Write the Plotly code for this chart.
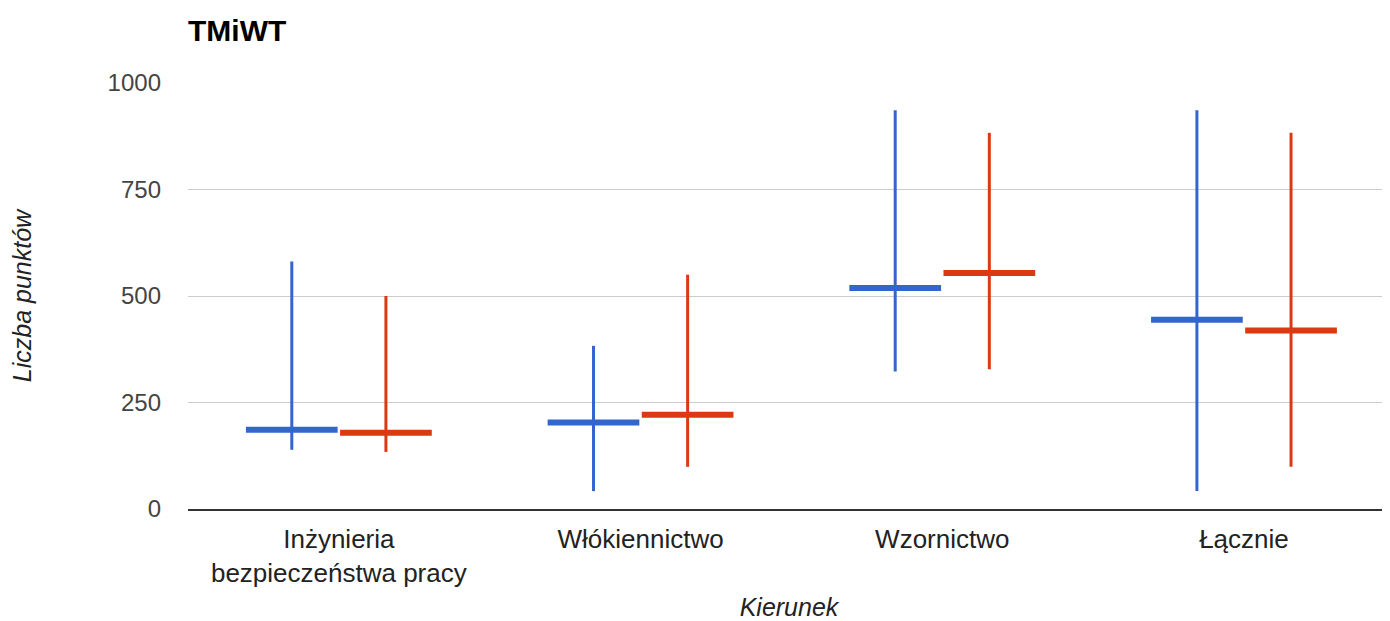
import plotly.graph_objects as go

categories = ["Inżynieria<br>bezpieczeństwa pracy", "Włókiennictwo", "Wzornictwo", "Łącznie"]

blue_min = [139, 42, 323, 42]
blue_max = [581, 383, 936, 936]
blue_mid = [186, 203, 519, 444]

red_min = [134, 99, 328, 99]
red_max = [500, 550, 883, 883]
red_mid = [179, 221, 554, 419]

y_ticks = [0, 250, 500, 750, 1000]

BLUE = "#3366cc"
RED = "#dc3912"
FONT = "Liberation Sans, Arial, sans-serif"

series = [
    ("Seria 1", blue_min, blue_max, blue_mid, BLUE, -0.156),
    ("Seria 2", red_min, red_max, red_mid, RED, 0.156),
]
half_w = 0.152

fig = go.Figure()
for name, mins, maxs, mids, color, off in series:
    vx, vy, hx, hy = [], [], [], []
    for i, (lo, hi, mid) in enumerate(zip(mins, maxs, mids)):
        p = i + off
        vx += [p, p, None]
        vy += [lo, hi, None]
        hx += [p - half_w, p + half_w, None]
        hy += [mid, mid, None]
    fig.add_trace(go.Scatter(x=hx, y=hy, mode="lines", name=name,
                             line=dict(color=color, width=6), showlegend=False,
                             hoverinfo="skip"))
    fig.add_trace(go.Scatter(x=vx, y=vy, mode="lines", name=name,
                             line=dict(color=color, width=3), showlegend=False,
                             hoverinfo="skip"))

W, H = 1382, 613
fig.update_layout(
    width=W, height=H,
    margin=dict(l=180, r=0, t=75, b=112),
    paper_bgcolor="white", plot_bgcolor="white",
    font=dict(family=FONT, size=24, color="#222222"),
    title=dict(text="<b>TMiWT</b>", x=180 / W, xanchor="left",
               y=1 - 22 / H, yanchor="middle",
               font=dict(family=FONT, size=30, color="#000000")),
    xaxis=dict(
        range=[-0.5, 3.484],
        tickmode="array", tickvals=list(range(len(categories))), ticktext=categories,
        showgrid=False, zeroline=False,
        showline=True, linecolor="#333333", linewidth=2,
        ticks="", ticklabelstandoff=6,
        tickfont=dict(family=FONT, size=26, color="#222222"),
        title=dict(text="<i>Kierunek</i>", standoff=22,
                   font=dict(family=FONT, size=25, color="#222222")),
        automargin=False, fixedrange=True,
    ),
    yaxis=dict(
        range=[0, 1000],
        tickmode="array", tickvals=y_ticks,
        showgrid=True, gridcolor="#cccccc", gridwidth=1,
        zeroline=False, showline=False,
        ticks="", ticklabelstandoff=26,
        tickfont=dict(family=FONT, size=24, color="#444444"),
        title=dict(text="<i>Liczba punktów</i>", standoff=70,
                   font=dict(family=FONT, size=25, color="#222222")),
        automargin=False, fixedrange=True,
    ),
)

fig.write_html("out.html")
